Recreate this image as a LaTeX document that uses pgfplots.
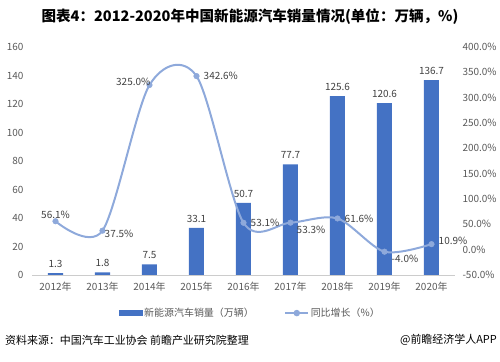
\documentclass[border=0pt]{standalone}
\usepackage{pgfplots}
\pgfplotsset{compat=1.18}
\usepackage{fontspec}
\setmainfont{Noto Sans CJK SC}
\definecolor{barc}{HTML}{4472C4}
\definecolor{linec}{HTML}{8EA9DB}
\definecolor{txt}{HTML}{595959}
\definecolor{lab}{HTML}{404040}
\begin{document}
\begin{tikzpicture}
\useasboundingbox (0,0) rectangle (500bp,362bp);
\node[font=\fontsize{14.6}{16}\selectfont\bfseries, text=black] at (250bp,345bp) {图表4：2012-2020年中国新能源汽车销量情况(单位：万辆，\%)};
\node[font=\fontsize{11}{13}\selectfont, text=black, anchor=west, inner sep=0] at (5bp,22bp) {资料来源：中国汽车工业协会 前瞻产业研究院整理};
\node[font=\fontsize{11}{13}\selectfont, text=black, anchor=east, inner sep=0] at (497bp,22bp) {@前瞻经济学人APP};
\begin{axis}[
  at={(32bp,87bp)}, anchor=south west, scale only axis,
  width=423bp, height=228bp,
  xmin=-0.5, xmax=8.5, ymin=0, ymax=160,
  axis x line*=bottom, axis y line*=left,
  x axis line style={draw=black!20},
  y axis line style={draw=none},
  major tick length=0pt,
  xtick={0,...,8},
  xticklabels={2012年,2013年,2014年,2015年,2016年,2017年,2018年,2019年,2020年},
  ytick={0,20,...,160},
  /pgf/number format/assume math mode=true,
  tick label style={font=\fontsize{10}{12}\selectfont, text=txt},
  yticklabel style={xshift=-5bp},
  xticklabel style={yshift=-4bp},
  ybar, bar width=15bp,
  nodes near coords,
  every node near coord/.append style={font=\fontsize{10}{12}\selectfont, text=lab, yshift=2bp},
  clip=false,
]
\addplot[fill=barc, draw=none] coordinates {(0,1.3) (1,1.8) (2,7.5) (3,33.1) (4,50.7) (5,77.7) (6,125.6) (7,120.6) (8,136.7)};
\end{axis}
\begin{axis}[
  at={(32bp,87bp)}, anchor=south west, scale only axis,
  width=423bp, height=228bp,
  xmin=-0.5, xmax=8.5, ymin=-50, ymax=400,
  axis x line=none, axis y line*=right,
  y axis line style={draw=none},
  major tick length=0pt,
  ytick={-50,0,...,400},
  yticklabel={\pgfmathprintnumber[fixed,fixed zerofill,precision=1]{\tick}\%},
  /pgf/number format/assume math mode=true,
  tick label style={font=\fontsize{10}{12}\selectfont, text=txt},
  yticklabel style={xshift=4bp},
  clip=false,
  legend style={at={(0.516,-0.167)}, anchor=center, draw=none, fill=none, font=\fontsize{10}{12}\selectfont, text=txt, legend columns=2,
    nodes={inner sep=1.5pt},
    /tikz/every even column/.append style={column sep=29bp}},
  legend cell align=left,
]
\addlegendimage{legend image code/.code={\fill[barc] (0bp,-2.5bp) rectangle (23bp,2.5bp);}}
\addlegendentry{新能源汽车销量（万辆）}
\addplot[linec, line width=2pt, smooth, mark=*, mark size=2.8pt, mark options={fill=linec, draw=linec, line width=0.5pt},
  legend image code/.code={\draw[linec, line width=2pt] (0bp,0bp) -- (23bp,0bp); \fill[linec] (11.5bp,0bp) circle (2.2bp);},
  nodes near coords={\pgfmathprintnumber[fixed,fixed zerofill,precision=1]{\pgfplotspointmeta}\%},
  visualization depends on={value \thisrow{anc}\as\anc},
  visualization depends on={value \thisrow{xs}\as\xs},
  visualization depends on={value \thisrow{ys}\as\ys},
  every node near coord/.append style={font=\fontsize{10}{12}\selectfont, text=lab, anchor=\anc, xshift=\xs bp, yshift=\ys bp, inner sep=1pt},
] table[col sep=comma, x=x, y=y] {
x,y,anc,xs,ys
0,56.1,south,0,1
1,37.5,west,1,-3
2,325.0,south east,2,-2
3,342.6,west,6,0
4,53.1,west,6,0
5,53.3,north west,5,-2
6,61.6,west,6,0
7,-4.0,north west,6,-2
8,10.9,west,6,3
};
\addlegendentry{同比增长（\%）}
\end{axis}
\end{tikzpicture}
\end{document}
